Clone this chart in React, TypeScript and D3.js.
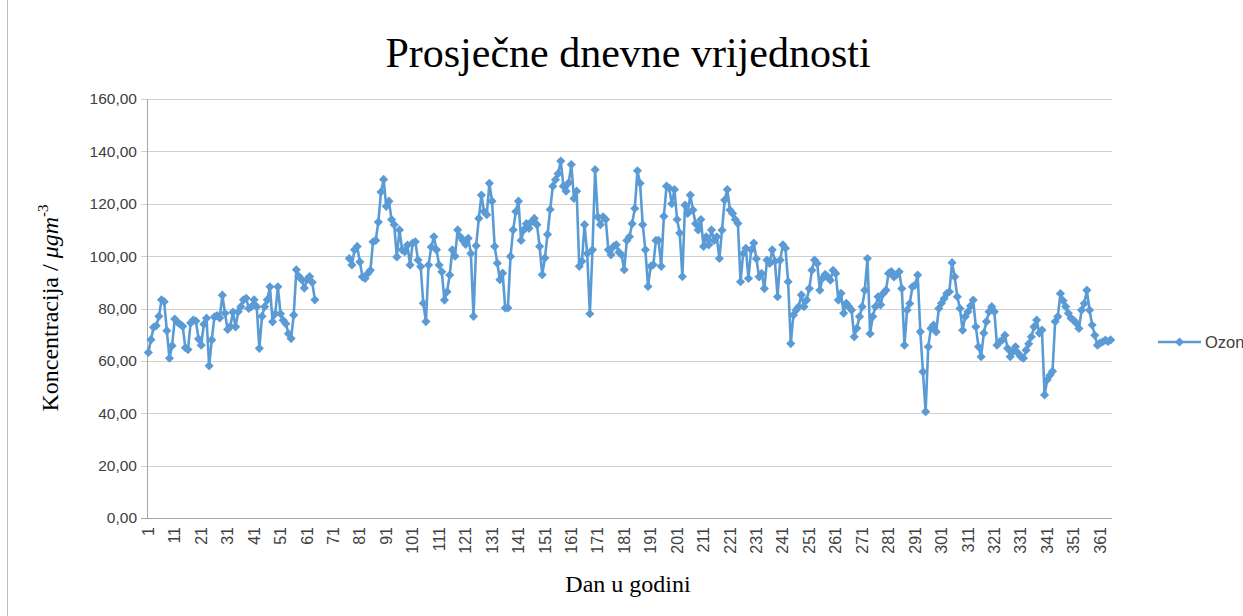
import React, { useEffect, useRef } from 'react';
import * as d3 from 'd3';

// daily mean ozone concentration, day 1..365 (null = no measurement)
const ozone: (number | null)[] = [
  63.2, 68.1, 72.8, 73.4, 77.0, 83.3, 82.6, 71.5, 61.0, 65.8,
  76.0, 74.8, 74.0, 73.2, 65.0, 64.3, 74.5, 75.6, 75.2, 68.4,
  66.0, 74.0, 76.3, 58.1, 68.0, 76.8, 77.3, 76.4, 85.1, 78.2,
  72.0, 73.1, 78.6, 73.0, 78.8, 80.7, 83.3, 83.9, 80.0, 80.7,
  83.3, 80.7, 64.8, 77.0, 80.7, 83.3, 88.3, 74.9, 78.0, 88.3,
  78.0, 75.5, 74.2, 70.4, 68.5, 77.5, 94.8, 92.2, 91.0, 87.8,
  91.0, 92.2, 90.0, 83.3, null, null, null, null, null, null,
  null, null, null, null, null, null, 99.1, 96.6, 102.4, 103.7,
  97.8, 92.1, 91.5, 93.4, 94.6, 105.5, 106.0, 113.0, 124.5, 129.3,
  119.0, 121.0, 114.0, 112.0, 99.7, 110.0, 102.4, 101.7, 104.2, 96.6,
  105.0, 105.5, 98.5, 96.0, 82.0, 75.0, 96.6, 103.5, 107.4, 102.4,
  96.6, 94.0, 83.2, 86.4, 92.8, 102.4, 100.0, 110.0, 107.4, 106.0,
  104.5, 106.8, 101.0, 77.0, 104.0, 114.4, 123.3, 117.0, 115.8, 127.8,
  121.0, 103.7, 97.3, 91.0, 93.5, 80.2, 80.2, 99.9, 110.0, 117.0,
  121.0, 106.0, 110.0, 112.4, 110.6, 113.2, 114.4, 112.0, 103.7, 92.9,
  99.3, 108.3, 117.8, 126.7, 129.2, 131.5, 136.3, 126.7, 124.8, 128.0,
  135.0, 122.0, 124.8, 96.1, 98.0, 112.0, 101.0, 78.0, 102.4, 133.0,
  115.0, 112.0, 115.0, 114.0, 102.4, 100.5, 103.7, 104.3, 101.5, 100.5,
  94.8, 106.0, 107.4, 112.4, 118.2, 132.6, 127.8, 112.0, 102.4, 88.4,
  96.1, 96.7, 106.0, 106.0, 96.1, 115.2, 126.7, 126.0, 120.0, 125.4,
  114.0, 108.8, 92.2, 119.5, 116.3, 123.3, 117.6, 112.4, 110.0, 114.0,
  103.7, 107.4, 104.3, 110.0, 106.0, 107.4, 99.1, 109.9, 121.4, 125.4,
  117.6, 116.3, 114.0, 112.5, 90.2, 101.0, 103.0, 91.5, 102.4, 105.0,
  99.0, 92.1, 93.4, 87.6, 98.5, 97.2, 102.4, 98.0, 84.5, 98.5,
  104.3, 103.0, 90.2, 66.6, 77.5, 79.4, 80.7, 85.2, 80.7, 83.2,
  87.6, 94.6, 98.5, 97.2, 87.0, 91.5, 93.0, 92.1, 90.8, 94.6,
  93.4, 83.2, 85.8, 78.2, 82.0, 80.7, 79.4, 69.2, 72.5, 76.9,
  80.7, 87.0, 99.1, 70.4, 76.9, 80.7, 84.5, 81.4, 85.8, 87.0,
  93.4, 94.1, 92.1, 92.8, 94.0, 87.6, 66.0, 79.4, 81.9, 88.3,
  88.9, 92.8, 71.1, 55.8, 40.6, 65.4, 72.4, 73.7, 71.1, 80.0,
  82.0, 83.8, 85.7, 86.4, 97.5, 92.1, 84.5, 80.0, 71.7, 76.9,
  78.8, 81.0, 83.2, 73.0, 65.4, 61.6, 70.6, 75.0, 78.8, 80.7,
  78.8, 66.0, 67.3, 68.0, 69.8, 64.8, 61.6, 63.5, 65.4, 62.9,
  61.6, 61.0, 64.1, 66.5, 69.2, 73.0, 75.6, 70.6, 71.8, 47.0,
  52.8, 54.5, 56.0, 75.0, 76.9, 85.7, 83.0, 80.7, 78.2, 76.3,
  75.5, 74.4, 72.4, 79.4, 81.9, 87.0, 79.4, 73.7, 69.8, 66.0,
  66.8, 67.3, 67.9, 67.4, 68.0,
];

const days = ozone.map((_, i) => i + 1);
const xLabelDays = days.filter(d => (d - 1) % 10 === 0);
const yTicks = [0, 20, 40, 60, 80, 100, 120, 140, 160];

const seriesName = 'Ozon';
const title = 'Prosječne dnevne vrijednosti';
const xTitle = 'Dan u godini';

const W = 1243;
const H = 616;
const BLUE = '#5b9bd5';
const LABEL = '#404040';

const App: React.FC = () => {
  const ref = useRef<SVGSVGElement>(null);

  useEffect(() => {
    if (!ref.current) return;
    const svg = d3.select(ref.current);
    svg.selectAll('*').remove();

    const left = 147, right = 1112, top = 99, bottom = 518;

    const x = d3.scaleBand<number>().domain(days).range([left, right]).padding(0);
    const cx = (d: number) => (x(d) as number) + x.bandwidth() / 2;
    const y = d3.scaleLinear().domain([0, 160]).range([bottom, top]);
    const fmt = (v: number) => d3.format('.2f')(v).replace('.', ',');

    svg.append('rect').attr('width', W).attr('height', H).attr('fill', '#fff');
    svg.append('line')
      .attr('x1', 7.5).attr('x2', 7.5).attr('y1', 0).attr('y2', H)
      .attr('stroke', '#bdbdbd');

    // title
    svg.append('text')
      .attr('x', 628).attr('y', 67)
      .attr('text-anchor', 'middle')
      .attr('font-family', '"Liberation Serif", "Times New Roman", serif')
      .attr('font-size', 42)
      .attr('fill', '#000')
      .text(title);

    // gridlines + y ticks
    svg.append('g')
      .selectAll('line')
      .data(yTicks)
      .enter().append('line')
        .attr('x1', left - 6).attr('x2', right)
        .attr('y1', d => Math.round(y(d)) + 0.5)
        .attr('y2', d => Math.round(y(d)) + 0.5)
        .attr('stroke', d => d === 0 ? '#a6a6a6' : '#d0d0d0')
        .attr('stroke-width', 1);

    svg.append('line')
      .attr('x1', left + 0.5).attr('x2', left + 0.5)
      .attr('y1', y(160)).attr('y2', y(0))
      .attr('stroke', '#a6a6a6');

    svg.append('g')
      .attr('font-family', '"Liberation Sans", Arial, sans-serif')
      .attr('font-size', 15.5)
      .attr('fill', LABEL)
      .attr('text-anchor', 'end')
      .selectAll('text')
      .data(yTicks)
      .enter().append('text')
        .attr('x', 137)
        .attr('y', d => y(d))
        .attr('dy', '0.35em')
        .text(d => fmt(d));

    // x tick labels (rotated)
    svg.append('g')
      .attr('font-family', '"Liberation Sans", Arial, sans-serif')
      .attr('font-size', 16)
      .attr('fill', LABEL)
      .attr('text-anchor', 'end')
      .selectAll('text')
      .data(xLabelDays)
      .enter().append('text')
        .attr('transform', d => `translate(${cx(d)},${bottom + 9}) rotate(-90)`)
        .attr('dy', '0.35em')
        .text(d => String(d));

    // axis titles
    const yTitle = svg.append('text')
      .attr('transform', `translate(58,308) rotate(-90)`)
      .attr('text-anchor', 'middle')
      .attr('font-family', '"Liberation Serif", "Times New Roman", serif')
      .attr('font-size', 24)
      .attr('fill', '#000');
    yTitle.append('tspan').text('Koncentracija / ');
    yTitle.append('tspan').attr('font-style', 'italic').text('μgm');
    yTitle.append('tspan').attr('font-size', 15).attr('dy', -10).text('-3');

    svg.append('text')
      .attr('x', 628).attr('y', 592)
      .attr('text-anchor', 'middle')
      .attr('font-family', '"Liberation Serif", "Times New Roman", serif')
      .attr('font-size', 24)
      .attr('fill', '#000')
      .text(xTitle);

    // series
    const pts = days.map((d, i) => ({ d, v: ozone[i] }));
    const line = d3.line<{ d: number; v: number | null }>()
      .defined(p => p.v != null)
      .x(p => cx(p.d))
      .y(p => y(p.v as number));

    svg.append('path')
      .datum(pts)
      .attr('d', line)
      .attr('fill', 'none')
      .attr('stroke', BLUE)
      .attr('stroke-width', 2.6)
      .attr('stroke-linejoin', 'round');

    const diamond = d3.symbol(d3.symbolSquare, 42);
    svg.append('g')
      .selectAll('path')
      .data(pts.filter(p => p.v != null))
      .enter().append('path')
        .attr('d', diamond)
        .attr('transform', p => `translate(${cx(p.d)},${y(p.v as number)}) rotate(45)`)
        .attr('fill', BLUE);

    // legend
    const lg = svg.append('g').attr('transform', 'translate(1158,342)');
    lg.append('line').attr('x1', 0).attr('x2', 43).attr('y1', 0).attr('y2', 0)
      .attr('stroke', BLUE).attr('stroke-width', 2.6);
    lg.append('path').attr('d', diamond).attr('transform', 'translate(21.5,0) rotate(45)')
      .attr('fill', BLUE);
    lg.append('text')
      .attr('x', 47).attr('y', 0).attr('dy', '0.35em')
      .attr('font-family', '"Liberation Sans", Arial, sans-serif')
      .attr('font-size', 16.5)
      .attr('fill', LABEL)
      .text(seriesName);
  }, []);

  return (
    <svg
      ref={ref}
      width={W}
      height={H}
      style={{ position: 'absolute', left: 0, top: 0, display: 'block' }}
    />
  );
};

export default App;
